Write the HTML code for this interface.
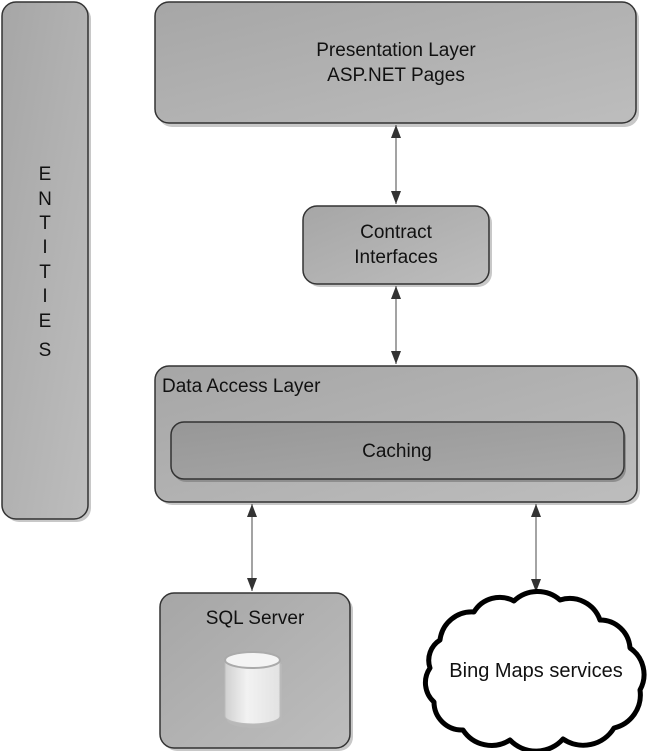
<!DOCTYPE html>
<html><head><meta charset="utf-8"><style>
html,body{margin:0;padding:0;background:#fff;}
svg{display:block;}
text{font-family:"Liberation Sans",sans-serif;fill:#111;}
</style></head><body>
<svg width="650" height="751" viewBox="0 0 650 751" xmlns="http://www.w3.org/2000/svg">
<defs>
<linearGradient id="g" x1="0" y1="0" x2="1" y2="1">
<stop offset="0" stop-color="#a6a6a6"/><stop offset="1" stop-color="#bdbdbd"/></linearGradient>
<linearGradient id="gd" x1="0" y1="0" x2="1" y2="1">
<stop offset="0" stop-color="#979797"/><stop offset="1" stop-color="#a9a9a9"/></linearGradient>
<linearGradient id="cyl" x1="0" y1="0" x2="1" y2="0">
<stop offset="0" stop-color="#d0d0d0"/><stop offset="0.4" stop-color="#f2f2f2"/><stop offset="1" stop-color="#e2e2e2"/></linearGradient>
<marker id="a" viewBox="0 0 13 10" refX="13" refY="5" markerWidth="13" markerHeight="10" orient="auto-start-reverse" markerUnits="userSpaceOnUse">
<path d="M0,0 L13,5 L0,10z" fill="#333"/></marker>
</defs>
<g fill="#c8c8c8">
<rect x="5" y="5" width="86" height="517" rx="14"/>
<rect x="158" y="5" width="481" height="122" rx="14"/>
<rect x="306" y="209" width="186" height="78" rx="14"/>
<rect x="158" y="369" width="482" height="136" rx="14"/>
<rect x="163" y="596" width="190" height="155" rx="14"/>
</g>
<rect x="2" y="2" width="86" height="517" rx="14" fill="url(#g)" stroke="#333" stroke-width="1.5"/>
<rect x="155" y="2" width="481" height="121" rx="14" fill="url(#g)" stroke="#333" stroke-width="1.5"/>
<rect x="303" y="206" width="186" height="78" rx="14" fill="url(#g)" stroke="#333" stroke-width="1.5"/>
<rect x="155" y="366" width="482" height="136" rx="14" fill="url(#g)" stroke="#333" stroke-width="1.5"/>
<rect x="173" y="425" width="453" height="57" rx="13" fill="#8e8e8e"/>
<rect x="171" y="422" width="453" height="57" rx="13" fill="url(#gd)" stroke="#333" stroke-width="1.5"/>
<rect x="160" y="593" width="190" height="155" rx="14" fill="url(#g)" stroke="#333" stroke-width="1.5"/>

<g font-size="19" text-anchor="middle">
<text x="45" y="180">E</text>
<text x="45" y="205">N</text>
<text x="45" y="229">T</text>
<text x="45" y="253">I</text>
<text x="45" y="278">T</text>
<text x="45" y="302">I</text>
<text x="45" y="327">E</text>
<text x="45" y="356">S</text>
</g>
<text x="396" y="56" font-size="19" text-anchor="middle">Presentation Layer</text>
<text x="396" y="81" font-size="19" text-anchor="middle">ASP.NET Pages</text>
<text x="396" y="238" font-size="19" text-anchor="middle">Contract</text>
<text x="396" y="263" font-size="19" text-anchor="middle">Interfaces</text>
<text x="162" y="392" font-size="19">Data Access Layer</text>
<text x="397" y="457" font-size="19" text-anchor="middle">Caching</text>
<text x="255" y="624" font-size="19" text-anchor="middle">SQL Server</text>

<path d="M225,660 L225,716 A27.5,8 0 0 0 280,716 L280,660z" fill="#b8b8b8" transform="translate(2,4)"/>
<path d="M225,660 L225,716 A27.5,8 0 0 0 280,716 L280,660z" fill="url(#cyl)" stroke="#bbb"/>
<ellipse cx="252.5" cy="660" rx="27.5" ry="8" fill="#f4f4f4" stroke="#aaa" stroke-width="2"/>

<g stroke="#666" stroke-width="1.2" marker-start="url(#a)" marker-end="url(#a)">
<line x1="396" y1="125" x2="396" y2="204"/>
<line x1="396" y1="286" x2="396" y2="364"/>
<line x1="252" y1="504" x2="252" y2="591"/>
<line x1="536" y1="504" x2="536" y2="592"/>
</g>

<path d="M440,640 A32,32 0 0 1 474,612 A30,30 0 0 1 514,601 A34,34 0 0 1 560,600 A32,32 0 0 1 600,620 A30,30 0 0 1 630,648 A32,32 0 0 1 640,690 A34,34 0 0 1 614,728 A36,36 0 0 1 563,739 A36,36 0 0 1 510,740 A34,34 0 0 1 463,730 A28,28 0 0 1 434,702 A26,26 0 0 1 430,668 A24,24 0 0 1 440,640z" fill="#fff" stroke="#000" stroke-width="5" stroke-linejoin="round"/>
<text x="536" y="677" font-size="20" text-anchor="middle">Bing Maps services</text>
</svg>
</body></html>
